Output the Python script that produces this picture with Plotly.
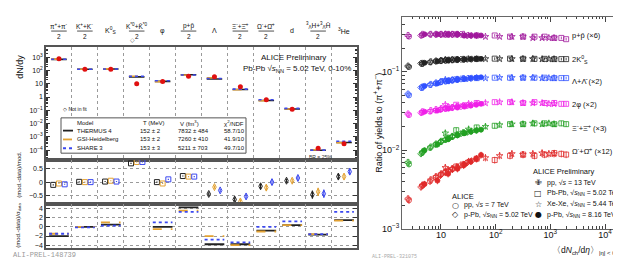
import plotly.graph_objects as go

W, H = 621, 262
def X(px): return px / W
def Y(py): return 1 - py / H

FONT = "Liberation Sans, Arial, sans-serif"

# ---------------- Left figure: thermal-model fits ----------------
cols = list(range(12))
col_fracs = ["π<sup>+</sup>+π<sup>-</sup>", "K<sup>+</sup>+K<sup>-</sup>", None,
             "K<sup>*0</sup>+K̄<sup>*0</sup>", None, "p+p̄", None,
             "Ξ<sup>-</sup>+Ξ̄<sup>+</sup>", "Ω<sup>-</sup>+Ω̄<sup>+</sup>", None,
             "<sup>3</sup><sub>Λ</sub>H+<sup>3</sup><sub>Λ̄</sub>H̄", None]
col_single = [None, None, "K<sup>0</sup><sub>S</sub>", None, "φ", None, "Λ",
              None, None, "d", None, "<sup>3</sup>He"]

data_yield    = [750, 125, 125, 10, 15, 37, 33, 6.0, 0.62, 0.12, 1.4e-4, 3.0e-4]
thermus_yield = [680, 125, 128, 33, 15, 47, 23, 3.7, 0.54, 0.126, 0.97e-4, 3.75e-4]
gsi_yield     = [715, 125, 131, 37, 14.3, 46, 28, 3.5, 0.52, 0.126, 1.04e-4, 3.6e-4]
share_yield   = [695, 125, 128, 37, 16.7, 46, 25, 3.9, 0.62, 0.14, 1.0e-4, 4.6e-4]

thermus_rel = [-0.10, 0.01, 0.02, 0.68, 0.00, 0.22, -0.43, -0.63, -0.15, 0.05, -0.45, 0.20]
gsi_rel     = [-0.05, 0.00, 0.05, 0.73, -0.05, 0.20, -0.18, -0.70, -0.20, 0.05, -0.35, 0.20]
share_rel   = [-0.08, 0.00, 0.02, 0.73, 0.10, 0.20, -0.30, -0.52, 0.00, 0.15, -0.42, 0.38]
rel_err     = [0.02, 0.02, 0.02, 0.02, 0.02, 0.02, 0.06, 0.08, 0.10, 0.07, 0.15, 0.10]

thermus_sig = [-2.0, 0.0, 0.5, None, 0.0, 4.3, -3.8, -3.8, -0.8, 0.4, -1.7, 1.5]
gsi_sig     = [-1.5, 0.0, 1.0, None, -0.5, 3.6, -2.0, -4.0, -1.0, 0.4, -1.6, 1.4]
share_sig   = [-1.5, -0.1, 0.3, None, 1.0, 3.3, -2.8, -3.4, 0.0, 1.2, -1.6, 3.3]

models = ["THERMUS 4", "GSI-Heidelberg", "SHARE 3"]
model_T = ["152 ± 2", "153 ± 2", "153 ± 3"]
model_V = ["7832 ± 484", "7260 ± 410", "5211 ± 703"]
model_chi2 = ["58.7/10", "41.9/10", "49.7/10"]
model_colors = ["#222222", "#e3a233", "#3b48f0"]
model_dash = ["solid", "dash", "dot"]

# ---------------- Right figure: ratios to pions ----------------
pp13_x = [2.5, 4.6, 6.5, 8.1, 10.1, 12.1, 13.8, 16.1, 19.8, 25.8]
pp7_x  = [2.6, 4.5, 6.3, 8.0, 10.0, 12.0, 13.8, 16.2, 20.0, 26.0]
pPb5_x = [4.3, 9.8, 16.1, 23.2, 30.5, 36.2, 45.0]
pPb8_x = [5.0, 8.6, 13.5, 20.0, 27.0, 35.0, 44.0, 54.0]
PbPb_x = [19.0, 45.0, 96.0, 183.0, 318.0, 512.0, 786.0, 1180.0, 1587.0, 1943.0]
XeXe_x = [12.0, 32.0, 65.0, 118.0, 198.0, 315.0, 478.0, 706.0, 939.0, 1167.0]

proton = {
    "pp13": [0.29, 0.30, 0.30, 0.30, 0.30, 0.30, 0.30, 0.30, 0.30, 0.30],
    "pp7":  [0.28, 0.29, 0.30, 0.30, 0.30, 0.30, 0.30, 0.30, 0.30, 0.29],
    "pPb5": [0.29, 0.30, 0.30, 0.30, 0.29, 0.29, 0.29],
    "pPb8": [0.30, 0.30, 0.30, 0.30, 0.29, 0.29, 0.29, 0.29],
    "PbPb": [0.30, 0.29, 0.29, 0.28, 0.28, 0.28, 0.28, 0.27, 0.27, 0.26],
    "XeXe": [0.30, 0.29, 0.28, 0.28, 0.28, 0.28, 0.27, 0.27, 0.27, 0.27],
}
kaon0 = {
    "pp13": [0.118, 0.128, 0.134, 0.137, 0.139, 0.140, 0.141, 0.142, 0.143, 0.144],
    "pp7":  [0.115, 0.126, 0.132, 0.136, 0.138, 0.140, 0.141, 0.142, 0.143, 0.144],
    "pPb5": [0.128, 0.138, 0.142, 0.144, 0.145, 0.145, 0.146],
    "pPb8": [0.130, 0.136, 0.140, 0.143, 0.144, 0.145, 0.146, 0.146],
    "PbPb": [0.143, 0.146, 0.147, 0.147, 0.146, 0.146, 0.146, 0.145, 0.145, 0.145],
    "XeXe": [0.142, 0.145, 0.146, 0.146, 0.146, 0.146, 0.146, 0.145, 0.145, 0.145],
}
lam = {
    "pp13": [0.052, 0.064, 0.069, 0.072, 0.075, 0.076, 0.077, 0.078, 0.080, 0.082],
    "pp7":  [0.050, 0.062, 0.068, 0.071, 0.074, 0.076, 0.077, 0.078, 0.080, 0.081],
    "pPb5": [0.063, 0.074, 0.079, 0.081, 0.082, 0.083, 0.084],
    "pPb8": [0.066, 0.071, 0.076, 0.079, 0.081, 0.083, 0.084, 0.085],
    "PbPb": [0.080, 0.083, 0.084, 0.084, 0.084, 0.084, 0.084, 0.083, 0.083, 0.083],
    "XeXe": [0.079, 0.082, 0.083, 0.084, 0.084, 0.084, 0.084, 0.083, 0.083, 0.083],
}
phi = {
    "pp13": [0.029, 0.031, 0.032, 0.033, 0.034, 0.034, 0.035, 0.035, 0.036, 0.037],
    "pp7":  [0.028, 0.030, 0.031, 0.032, 0.033, 0.034, 0.034, 0.035, 0.036, 0.037],
    "pPb5": [0.030, 0.033, 0.035, 0.036, 0.037, 0.038, 0.039],
    "pPb8": [0.031, 0.032, 0.034, 0.035, 0.036, 0.037, 0.038, 0.039],
    "PbPb": [0.038, 0.040, 0.041, 0.041, 0.040, 0.041, 0.040, 0.040, 0.039, 0.039],
    "XeXe": [0.038, 0.039, 0.040, 0.041, 0.041, 0.040, 0.040, 0.040, 0.039, 0.039],
}
xi = {
    "pp13": [0.0070, 0.0095, 0.0110, 0.0120, 0.0130, 0.0138, 0.0143, 0.0150, 0.0158, 0.0168],
    "pp7":  [0.0066, 0.0092, 0.0107, 0.0118, 0.0128, 0.0135, 0.0141, 0.0148, 0.0156, 0.0165],
    "pPb5": [0.0090, 0.0128, 0.0150, 0.0163, 0.0170, 0.0175, 0.0180],
    "pPb8": [0.0100, 0.0118, 0.0138, 0.0155, 0.0165, 0.0172, 0.0178, 0.0183],
    "PbPb": [0.0180, 0.0195, 0.0205, 0.0215, 0.0215, 0.0220, 0.0220, 0.0215, 0.0220, 0.0215],
    "XeXe": [0.0165, 0.0185, 0.0200, 0.0210, 0.0215, 0.0215, 0.0220, 0.0215, 0.0220, 0.0215],
}
omega = {
    "pp13": [0.0024, 0.0036, 0.0042, 0.0046, 0.0050, 0.0053, 0.0055, 0.0058, 0.0061, 0.0066],
    "pp7":  [0.0023, 0.0035, 0.0040, 0.0045, 0.0049, 0.0052, 0.0054, 0.0057, 0.0060, 0.0064],
    "pPb5": [0.0034, 0.0048, 0.0058, 0.0065, 0.0070, 0.0073, 0.0078],
    "pPb8": [0.0037, 0.0041, 0.0050, 0.0058, 0.0066, 0.0072, 0.0078, 0.0087],
    "PbPb": [0.0062, 0.0078, 0.0075, 0.0085, 0.0088, 0.0085, 0.0088, 0.0092, 0.0090, 0.0088],
    "XeXe": [0.0060, 0.0072, 0.0080, 0.0085, 0.0090, 0.0088, 0.0090, 0.0092, 0.0090, 0.0090],
}
species_labels = ["p+p̄ (×6)", "2K<sup>0</sup><sub>S</sub>", "Λ+Λ̄ (×2)", "2φ (×2)",
                  "Ξ<sup>-</sup>+Ξ̄<sup>+</sup> (×3)", "Ω<sup>-</sup>+Ω̄<sup>+</sup> (×12)"]
species_data = [proton, kaon0, lam, phi, xi, omega]
species_colors = ["#a0189c", "#222222", "#3050ff", "#f020e8", "#22a022", "#e02a2a"]
species_err = [4, 4, 4, 6, 8, 10]
species_label_y = [28, 52, 75, 98, 122, 146]

datasets = {"pp13": pp13_x, "pp7": pp7_x, "pPb5": pPb5_x, "pPb8": pPb8_x,
            "PbPb": PbPb_x, "XeXe": XeXe_x}
dataset_symbol = {"pp13": "cross-open", "pp7": "circle-open", "pPb5": "diamond-open",
                  "pPb8": "circle", "PbPb": "square-open", "XeXe": "star-open"}

fig = go.Figure()

# ---- top-left: yields ----
for vals, color, dash in zip([thermus_yield, gsi_yield, share_yield], model_colors, model_dash):
    xs, ys = [], []
    for i, v in enumerate(vals):
        xs += [i - 0.3, i + 0.3, None]
        ys += [v, v, None]
    fig.add_trace(go.Scatter(x=xs, y=ys, mode="lines", xaxis="x", yaxis="y",
                             line=dict(color=color, width=1.6, dash=dash), showlegend=False))
fig.add_trace(go.Scatter(x=cols, y=data_yield, mode="markers", xaxis="x", yaxis="y",
                         marker=dict(color="#e01010", size=5), showlegend=False))

# ---- middle-left: relative deviation ----
for k, (vals, color) in enumerate(zip([thermus_rel, gsi_rel, share_rel], model_colors)):
    off = (-0.22, 0.0, 0.22)[k]
    syms = ["square-open"] * 6 + ["diamond-tall-open"] * 6
    fig.add_trace(go.Scatter(x=[i + off for i in cols], y=vals, mode="markers", xaxis="x2", yaxis="y2",
                             marker=dict(symbol=syms, color=color, size=5, line=dict(width=1, color=color)),
                             error_y=dict(type="data", array=rel_err, color=color, width=0, thickness=1.2),
                             showlegend=False))

# ---- bottom-left: deviation in sigma ----
for vals, color, dash in zip([thermus_sig, gsi_sig, share_sig], model_colors, model_dash):
    xs, ys = [], []
    for i, v in enumerate(vals):
        if v is None:
            continue
        xs += [i - 0.38, i + 0.38, None]
        ys += [v, v, None]
    fig.add_trace(go.Scatter(x=xs, y=ys, mode="lines", xaxis="x3", yaxis="y3",
                             line=dict(color=color, width=1.8, dash=dash), showlegend=False))

# ---- right: ratios ----
for sdata, color, err in zip(species_data, species_colors, species_err):
    for key, xs in datasets.items():
        fig.add_trace(go.Scatter(
            x=xs, y=sdata[key], mode="markers", xaxis="x4", yaxis="y4",
            marker=dict(symbol=dataset_symbol[key], color=color, size=5,
                        line=dict(width=0.8, color=color)),
            error_y=dict(type="percent", value=err, color=color, width=0, thickness=0.8),
            showlegend=False))

grid_common = dict(showgrid=True, gridcolor="#9a9a9a", griddash="dot", gridwidth=0.8)
frame = dict(showline=True, mirror=True, linecolor="#555555", linewidth=1.5, zeroline=False)
xcat = dict(range=[-0.5, 11.5], tickvals=[i + 0.5 for i in range(11)], showticklabels=False,
            ticks="", domain=[X(38), X(349)], **grid_common, **frame)
ytick = dict(ticks="inside", ticklen=4, tickcolor="#333", tickfont=dict(size=7, family=FONT, color="#111"))

minor_log = [m * 10.0 ** e for e in range(-5, 5) for m in range(2, 10)]

layout = dict(
    width=W, height=H, margin=dict(l=0, r=0, t=0, b=0),
    paper_bgcolor="white", plot_bgcolor="white", showlegend=False,
    font=dict(family=FONT, color="#111"),
    xaxis=dict(anchor="y", **xcat),
    xaxis2=dict(anchor="y2", **xcat),
    xaxis3=dict(anchor="y3", **xcat),
    yaxis=dict(anchor="x", type="log", domain=[Y(155), Y(40)], range=[-4.75, 3.75],
               tickvals=[1e-4, 1e-3, 1e-2, 1e-1, 1, 10, 100, 1000],
               ticktext=["10<sup>−4</sup>", "10<sup>−3</sup>", "10<sup>−2</sup>", "10<sup>−1</sup>",
                         "1", "10", "10<sup>2</sup>", "10<sup>3</sup>"],
               minor=dict(ticks="inside", ticklen=2, tickvals=minor_log, tickcolor="#333"),
               showgrid=False, **ytick, **{**frame, "mirror": "allticks"}),
    yaxis2=dict(anchor="x2", domain=[Y(200), Y(155)], range=[-0.8, 0.8],
                tickvals=[-0.5, 0, 0.5], ticktext=["−0.5", "0", "0.5"],
                **grid_common, **ytick, **{**frame, "mirror": "allticks"}),
    yaxis3=dict(anchor="x3", domain=[Y(245), Y(200)], range=[-4.7, 5.0],
                tickvals=[-4, -2, 0, 2, 4], ticktext=["−4", "−2", "0", "2", "4"],
                **grid_common, **ytick, **{**frame, "mirror": "allticks"}),
    xaxis4=dict(anchor="y4", type="log", domain=[X(394), X(614)], range=[0.287, 4.31],
                tickvals=[10, 100, 1000, 10000],
                ticktext=["10", "10<sup>2</sup>", "10<sup>3</sup>", "10<sup>4</sup>"],
                ticks="inside", ticklen=5, tickcolor="#444", ticklabelstandoff=-3,
                tickfont=dict(size=9, family=FONT, color="#111"),
                minor=dict(ticks="inside", ticklen=2.5, tickvals=minor_log, tickcolor="#444"),
                showgrid=False, showline=True, mirror="allticks", linecolor="#666",
                linewidth=1, zeroline=False),
    yaxis4=dict(anchor="x4", type="log", domain=[Y(225), Y(9)], range=[-3, -0.3],
                tickvals=[0.001, 0.01, 0.1],
                ticktext=["10<sup>−3</sup>", "10<sup>−2</sup>", "10<sup>−1</sup>"],
                ticks="inside", ticklen=5, tickcolor="#444",
                tickfont=dict(size=9, family=FONT, color="#111"),
                minor=dict(ticks="inside", ticklen=2.5, tickvals=minor_log, tickcolor="#444"),
                showgrid=False, showline=True, mirror="allticks", linecolor="#666",
                linewidth=1, zeroline=False),
)
fig.update_layout(**layout)

ann = []
shapes = []

def txt(x, y, s, size=8, xanchor="left", color="#111", angle=0, fam=FONT, xref="paper"):
    ann.append(dict(x=x if xref != "paper" else X(x), y=Y(y), xref=xref, yref="paper", text=s,
                    showarrow=False, xanchor=xanchor, yanchor="middle", textangle=angle,
                    font=dict(size=size, color=color, family=fam)))

# column labels above the left figure
for i in cols:
    if col_fracs[i]:
        txt(i, 18, col_fracs[i], size=6.5, xanchor="center", xref="x")
        txt(i, 29, "2", size=6.5, xanchor="center", xref="x")
        shapes.append(dict(type="line", xref="x", yref="paper", x0=i - 0.3, x1=i + 0.3,
                           y0=Y(23.5), y1=Y(23.5), line=dict(color="#222", width=0.8)))
    else:
        txt(i, 23, col_single[i], size=7, xanchor="center", xref="x")
txt(3 - 0.15, 33, "◇", size=6, xanchor="center", xref="x", color="#444")

# y titles of left figure
txt(12, 60, "dN/dy", size=9, xanchor="center", angle=-90)
txt(11, 170, "(mod.-data)/mod.", size=6, xanchor="center", angle=-90)
txt(11, 222, "(mod.-data)/σ<sub>data</sub>", size=6, xanchor="center", angle=-90)

txt(251, 50, "ALICE Preliminary", size=8)
txt(233, 62, "Pb-Pb √<i>s</i><sub>NN</sub> = 5.02 TeV, 0-10%", size=8)
txt(53, 103, "◇ Not in fit", size=5)
txt(299, 152, "BR = 25%", size=5, color="#333")

# model legend box
shapes.append(dict(type="rect", xref="paper", yref="paper", x0=X(53), x1=X(238), y0=Y(148), y1=Y(112),
                   line=dict(color="#555", width=1), fillcolor="white", layer="above"))
txt(67, 117, "Model", size=6)
txt(133, 117, "T (MeV)", size=6)
txt(170, 117, "V (fm<sup>3</sup>)", size=6)
txt(214, 117, "χ<sup>2</sup>/NDF", size=6)
for k, ry in enumerate([125, 134, 143]):
    shapes.append(dict(type="line", xref="paper", yref="paper", x0=X(55), x1=X(65), y0=Y(ry), y1=Y(ry),
                       line=dict(color=model_colors[k], width=1.8, dash=model_dash[k]), layer="above"))
    txt(67, ry, models[k], size=6)
    txt(130, ry, model_T[k], size=6)
    txt(168, ry, model_V[k], size=6)
    txt(214, ry, model_chi2[k], size=6)

txt(3, 252, "ALI-PREL-148739", size=7, color="#999", fam="Liberation Mono, monospace")

# right figure text
txt(370, 117, "Ratio of yields to (π<sup>+</sup>+π<sup>−</sup>)", size=9, xanchor="center", angle=-90)
for lab, ly in zip(species_labels, species_label_y):
    txt(562, ly, lab, size=7.5)
ann.append(dict(x=X(615), y=Y(247), xref="paper", yref="paper", showarrow=False, xanchor="right",
                yanchor="middle",
                text="〈d<i>N</i><sub>ch</sub>/d<i>η</i>〉<sub>|η| &lt; 0.5</sub>",
                font=dict(size=8.5, family=FONT, color="#111")))
txt(523, 167, "ALICE Preliminary", size=7.5)
leg1 = [("✙", "pp, √<i>s</i> = 13 TeV"), ("□", "Pb-Pb, √<i>s</i><sub>NN</sub> = 5.02 TeV"),
        ("☆", "Xe-Xe, √<i>s</i><sub>NN</sub> = 5.44 TeV"), ("●", "p-Pb, √<i>s</i><sub>NN</sub> = 8.16 TeV")]
for k, (sym, lab) in enumerate(leg1):
    txt(530, 178 + 11 * k, sym, size=8, xanchor="center", fam="DejaVu Sans")
    txt(537, 178 + 11 * k, lab, size=7)
txt(442, 192, "ALICE", size=7.5)
leg2 = [("○", "pp, √<i>s</i> = 7 TeV"), ("◇", "p-Pb, √<i>s</i><sub>NN</sub> = 5.02 TeV")]
for k, (sym, lab) in enumerate(leg2):
    txt(447, 201 + 10 * k, sym, size=8, xanchor="center", fam="DejaVu Sans")
    txt(454, 201 + 10 * k, lab, size=7)
txt(362, 254, "ALI-PREL-321075", size=5, color="#aaa", fam="Liberation Mono, monospace")

fig.update_layout(annotations=ann, shapes=shapes)
fig.write_html("out.html")
